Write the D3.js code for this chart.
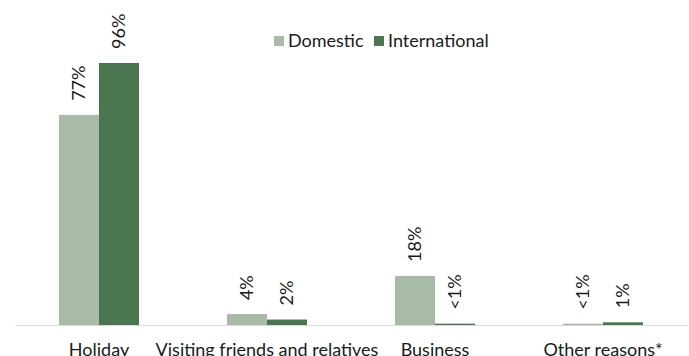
<!DOCTYPE html>
<html>
<head>
<meta charset="utf-8">
<script src="https://cdn.jsdelivr.net/npm/d3@7/dist/d3.min.js"></script>
<style>
  html, body { margin: 0; padding: 0; background: #ffffff; }
  svg { display: block; font-family: Lato, "Noto Sans", sans-serif; }
</style>
</head>
<body>
<svg id="chart" width="689" height="356"></svg>
<script>
// Purpose of trip, share of visitors (%)
const categories = ["Holiday", "Visiting friends and relatives", "Business", "Other reasons*"];
const seriesNames = ["Domestic", "International"];
const domesticValues = [77, 4, 18, 0.5];
const internationalValues = [96, 2, 0.5, 1];
const domesticLabels = ["77%", "4%", "18%", "<1%"];
const internationalLabels = ["96%", "2%", "<1%", "1%"];
const colors = ["#a8bba7", "#4a7750"];

const baseline = 325;
const plotTop = 63;
const fontSize = 18;
const svg = d3.select("#chart");

const x = d3.scaleBand()
  .domain(categories)
  .range([15, 687])
  .paddingInner(88 / 168)
  .paddingOuter(44 / 168);

const xs = d3.scaleBand()
  .domain(seriesNames)
  .range([0, x.bandwidth()]);

const y = d3.scaleLinear()
  .domain([0, 96])
  .range([baseline, plotTop]);

const rows = categories.map((c, i) => ({
  category: c,
  values: [
    { series: "Domestic", value: domesticValues[i], label: domesticLabels[i], color: colors[0] },
    { series: "International", value: internationalValues[i], label: internationalLabels[i], color: colors[1] }
  ]
}));

const groups = svg.append("g").selectAll("g")
  .data(rows)
  .join("g")
  .attr("transform", d => `translate(${x(d.category)},0)`);

groups.selectAll("rect")
  .data(d => d.values)
  .join("rect")
  .attr("x", d => xs(d.series))
  .attr("y", d => y(d.value))
  .attr("width", xs.bandwidth())
  .attr("height", d => y(0) - y(d.value))
  .attr("fill", d => d.color);

// Rotated value labels above each bar
groups.selectAll("text.value")
  .data(d => d.values)
  .join("text")
  .attr("class", "value")
  .attr("transform", d => `translate(${xs(d.series) + xs.bandwidth() / 2},${y(d.value) - 14}) rotate(-90)`)
  .attr("dy", "0.35em")
  .attr("text-anchor", "start")
  .attr("font-size", fontSize)
  .attr("fill", "#1a1a1a")
  .text(d => d.label);

// Category axis
const xAxis = d3.axisBottom(x).tickSize(0).tickPadding(18);
const axisG = svg.append("g")
  .attr("transform", `translate(0,${baseline})`)
  .call(xAxis);
axisG.select(".domain").attr("stroke", "#d9d9d9").attr("stroke-width", 1.2);
axisG.selectAll(".tick text")
  .attr("font-size", fontSize)
  .attr("font-family", "Lato, 'Noto Sans', sans-serif")
  .attr("fill", "#1a1a1a");

// Legend
const legend = svg.append("g").attr("transform", "translate(274,41)");
const legendItems = [
  { name: seriesNames[0], color: colors[0], x: 0 },
  { name: seriesNames[1], color: colors[1], x: 100 }
];
const li = legend.selectAll("g").data(legendItems).join("g")
  .attr("transform", d => `translate(${d.x},0)`);
li.append("rect")
  .attr("x", 0).attr("y", -5).attr("width", 10).attr("height", 10)
  .attr("fill", d => d.color);
li.append("text")
  .attr("x", 14)
  .attr("dy", "0.35em")
  .attr("font-size", fontSize)
  .attr("fill", "#1a1a1a")
  .text(d => d.name);
</script>
</body>
</html>
